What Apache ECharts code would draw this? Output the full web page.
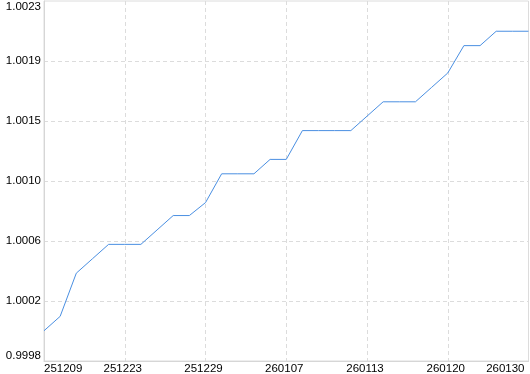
<!DOCTYPE html>
<html>
<head>
<meta charset="utf-8">
<script src="https://cdn.jsdelivr.net/npm/echarts@6/dist/echarts.min.js"></script>
<style>
html,body{margin:0;padding:0;background:#fff;}
#chart{width:530px;height:374px;}
</style>
</head>
<body>
<div id="chart"></div>
<script>
var dates = ['251209','251212','251215','251217','251219','251223','251224','251225','251226','251228',
             '251229','251230','251231','260105','260106','260107','260108','260109','260111','260112',
             '260113','260114','260115','260116','260119','260120','260122','260124','260126','260128','260130'];
var navValues = [1.00000,1.00010,1.00040,1.00050,1.00060,1.00060,1.00060,1.00070,1.00080,1.00080,
                 1.00089,1.00109,1.00109,1.00109,1.00119,1.00119,1.00139,1.00139,1.00139,1.00139,
                 1.00149,1.00159,1.00159,1.00159,1.00169,1.00179,1.00198,1.00198,1.00208,1.00208,1.00208];
var yMin = 0.99979, yMax = 1.00229;
var yTickValues = [0.99979,1.000207,1.000623,1.00104,1.001457,1.001873,1.00229];

var innerTicks = yTickValues.slice(1, yTickValues.length - 1);
var endTicks = [yTickValues[0], yTickValues[yTickValues.length - 1]];

var chart = echarts.init(document.getElementById('chart'), null, {renderer:'canvas'});
var font = 'Liberation Sans';
function fmt(v){ return v.toFixed(4); }
chart.setOption({
  animation:false,
  backgroundColor:'#ffffff',
  grid:{left:44,top:1,right:1.5,bottom:13,show:true,borderColor:'#dcdcdc',borderWidth:1,
        containLabel:false,outerBoundsMode:'none'},
  xAxis:{
    type:'category',
    data:dates,
    boundaryGap:false,
    axisLine:{show:true,lineStyle:{color:'#d6d6d6'}},
    axisTick:{show:false},
    axisLabel:{interval:4,margin:2,color:'#000',fontFamily:font,fontSize:11.5,
               alignMinLabel:'left',alignMaxLabel:'right',padding:[0,4,0,0]},
    splitLine:{show:true,interval:4,lineStyle:{color:'#dcdcdc',type:[4,3]}}
  },
  yAxis:[{
    type:'value',
    min:yMin,max:yMax,
    position:'left',
    axisLine:{show:true,lineStyle:{color:'#d6d6d6'}},
    axisTick:{show:false,customValues:innerTicks},
    axisLabel:{customValues:innerTicks,margin:3,color:'#000',fontFamily:font,fontSize:11.5,
               padding:[5,0,0,0],formatter:fmt},
    splitLine:{show:true,lineStyle:{color:'#dcdcdc',type:[4,3]}}
  },{
    type:'value',
    min:yMin,max:yMax,
    position:'left',
    offset:0,
    axisLine:{show:false},
    axisTick:{show:false,customValues:endTicks},
    axisLabel:{customValues:endTicks,margin:3,color:'#000',fontFamily:font,fontSize:11.5,
               lineHeight:11,
               verticalAlignMinLabel:'bottom',verticalAlignMaxLabel:'top',formatter:fmt},
    splitLine:{show:false}
  }],
  series:[{
    type:'line',
    yAxisIndex:0,
    data:navValues,
    showSymbol:false,
    symbol:'none',
    lineStyle:{color:'#4a8fe2',width:1},
    itemStyle:{color:'#4a8fe2'}
  }]
});
</script>
</body>
</html>
